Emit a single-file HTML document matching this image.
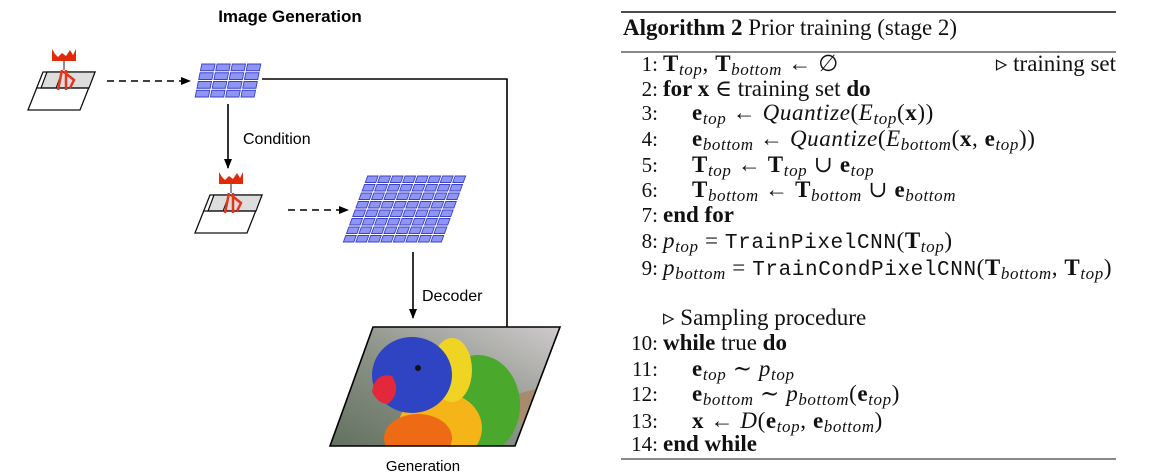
<!DOCTYPE html>
<html><head><meta charset="utf-8"><style>
html,body{margin:0;padding:0;background:#fff;}
svg{display:block;}
.sans{font-family:"Liberation Sans",Arial,sans-serif;}
.ser{font-family:"Liberation Serif","DejaVu Serif",serif;font-size:23px;fill:#111;}
.b{font-weight:bold;}
.i{font-style:italic;}
.m{font-family:"Liberation Mono",monospace;font-size:21px;}
.mx{letter-spacing:0.6px;}
</style></head><body>
<svg width="1151" height="475" viewBox="0 0 1151 475" xmlns="http://www.w3.org/2000/svg">
<defs>
<marker id="ah" markerWidth="10" markerHeight="8" refX="9" refY="4" orient="auto" markerUnits="userSpaceOnUse"><path d="M0,0 L10,4 L0,8 z" fill="#000"/></marker>
<clipPath id="pclip"><polygon points="373,327 560,327 515,446 330,446"/></clipPath>
<linearGradient id="bg" x1="0" y1="1" x2="1" y2="0"><stop offset="0" stop-color="#5f6e5c"/><stop offset="0.5" stop-color="#8e958a"/><stop offset="1" stop-color="#d6cfd4"/></linearGradient>
</defs>

<text class="sans b" x="290" y="22" font-size="17" font-weight="bold" text-anchor="middle">Image Generation</text>

<g>
 <polygon points="28,110 43,72 95,72 80,110" fill="#fff" stroke="#111" stroke-width="1.3"/>
 <polygon points="47,72 95,72 89,88 41,88" fill="#ddd" stroke="#111" stroke-width="1.2"/>
 <line x1="36" y1="88" x2="89" y2="88" stroke="#111" stroke-width="1.2"/>
 <line x1="62" y1="72" x2="56" y2="88" stroke="#111" stroke-width="1"/>
 <path d="M52,49 L52,61 L76,61 L76,49 L73,55 L70,50 L66,56 L62,53 L58,57 L55,54 Z" fill="#e02a0a"/>
 <line x1="64" y1="61" x2="64" y2="70" stroke="#222" stroke-width="1"/>
 <path d="M62,70 L58,90 M66,70 L66,90 M64,72 L74,80 L70,88" stroke="#e6361a" stroke-width="2.5" fill="none"/>
</g>
<line x1="107" y1="81" x2="190" y2="81" stroke="#000" stroke-width="1.6" stroke-dasharray="7,5" marker-end="url(#ah)"/>
<g id="grid1"></g>
<polyline points="262,79 507,79 507,327" fill="none" stroke="#000" stroke-width="1.6"/>
<line x1="228" y1="104" x2="228" y2="168" stroke="#000" stroke-width="1.6" marker-end="url(#ah)"/>
<text class="sans" x="243" y="144" font-size="16">Condition</text>

<g transform="translate(167,123)">
 <polygon points="28,110 43,72 95,72 80,110" fill="#fff" stroke="#111" stroke-width="1.3"/>
 <polygon points="47,72 95,72 89,88 41,88" fill="#ddd" stroke="#111" stroke-width="1.2"/>
 <line x1="36" y1="88" x2="89" y2="88" stroke="#111" stroke-width="1.2"/>
 <line x1="62" y1="72" x2="56" y2="88" stroke="#111" stroke-width="1"/>
 <path d="M52,49 L52,61 L76,61 L76,49 L73,55 L70,50 L66,56 L62,53 L58,57 L55,54 Z" fill="#e02a0a"/>
 <line x1="64" y1="61" x2="64" y2="70" stroke="#222" stroke-width="1"/>
 <path d="M62,70 L58,90 M66,70 L66,90 M64,72 L74,80 L70,88" stroke="#e6361a" stroke-width="2.5" fill="none"/>
</g>
<line x1="288" y1="210" x2="348" y2="210" stroke="#000" stroke-width="1.6" stroke-dasharray="7,5" marker-end="url(#ah)"/>
<g id="grid2"></g>
<line x1="413" y1="252" x2="413" y2="318" stroke="#000" stroke-width="1.6" marker-end="url(#ah)"/>
<text class="sans" x="422" y="301" font-size="16">Decoder</text>

<g clip-path="url(#pclip)">
 <rect x="320" y="320" width="250" height="130" fill="url(#bg)"/>
 <ellipse cx="530" cy="405" rx="50" ry="14" fill="#a88a6c" transform="rotate(-15 530 405)"/>
 <ellipse cx="478" cy="405" rx="42" ry="50" fill="#4aa82c"/>
 <ellipse cx="440" cy="428" rx="42" ry="36" fill="#f5b418"/>
 <ellipse cx="418" cy="438" rx="34" ry="24" fill="#ef6a14"/>
 <ellipse cx="452" cy="370" rx="20" ry="32" fill="#f0d424"/>
 <ellipse cx="412" cy="375" rx="40" ry="38" fill="#2f44c2"/>
 <path d="M372,392 Q375,372 392,376 Q402,392 388,404 Q378,404 372,392 Z" fill="#e4283c"/>
 <circle cx="418" cy="368" r="3" fill="#111"/>
</g>
<polygon points="373,327 560,327 515,446 330,446" fill="none" stroke="#000" stroke-width="1.6"/>
<text class="sans" x="423" y="471" font-size="15" text-anchor="middle">Generation</text>

<g class="ser">
<line x1="621" y1="12" x2="1116" y2="12" stroke="#111" stroke-width="1.5"/>
<text x="623" y="35"><tspan font-weight="bold">Algorithm 2</tspan> Prior training (stage 2)</text>
<line x1="621" y1="52" x2="1116" y2="52" stroke="#111" stroke-width="0.9"/>

<g text-anchor="end" font-size="21">
<text x="658" y="71">1:</text><text x="658" y="96">2:</text><text x="658" y="120">3:</text><text x="658" y="146">4:</text><text x="658" y="172">5:</text><text x="658" y="197">6:</text><text x="658" y="222">7:</text><text x="658" y="248">8:</text><text x="658" y="275">9:</text><text x="658" y="350">10:</text><text x="658" y="376">11:</text><text x="658" y="401">12:</text><text x="658" y="428">13:</text><text x="658" y="451">14:</text>
</g>
<text class="mx" x="663" y="71"><tspan font-weight="bold">T</tspan><tspan class="i" font-size="17" dy="4">top</tspan><tspan dy="-4">, </tspan><tspan font-weight="bold">T</tspan><tspan class="i" font-size="17" dy="4">bottom</tspan><tspan dy="-4"> ← ∅</tspan></text>
<text x="1116" y="71" text-anchor="end">▹ training set</text>
<text x="663" y="96"><tspan font-weight="bold">for x</tspan> ∈ training set <tspan font-weight="bold">do</tspan></text>
<text class="mx" x="692" y="120"><tspan font-weight="bold">e</tspan><tspan class="i" font-size="17" dy="4">top</tspan><tspan dy="-4"> ← </tspan><tspan class="i">Quantize</tspan>(<tspan class="i">E</tspan><tspan class="i" font-size="17" dy="4">top</tspan><tspan dy="-4">(</tspan><tspan font-weight="bold">x</tspan>))</text>
<text class="mx" x="692" y="146"><tspan font-weight="bold">e</tspan><tspan class="i" font-size="17" dy="4">bottom</tspan><tspan dy="-4"> ← </tspan><tspan class="i">Quantize</tspan>(<tspan class="i">E</tspan><tspan class="i" font-size="17" dy="4">bottom</tspan><tspan dy="-4">(</tspan><tspan font-weight="bold">x</tspan>, <tspan font-weight="bold">e</tspan><tspan class="i" font-size="17" dy="4">top</tspan><tspan dy="-4">))</tspan></text>
<text class="mx" x="692" y="172"><tspan font-weight="bold">T</tspan><tspan class="i" font-size="17" dy="4">top</tspan><tspan dy="-4"> ← </tspan><tspan font-weight="bold">T</tspan><tspan class="i" font-size="17" dy="4">top</tspan><tspan dy="-4"> ∪ </tspan><tspan font-weight="bold">e</tspan><tspan class="i" font-size="17" dy="4">top</tspan></text>
<text class="mx" x="692" y="197"><tspan font-weight="bold">T</tspan><tspan class="i" font-size="17" dy="4">bottom</tspan><tspan dy="-4"> ← </tspan><tspan font-weight="bold">T</tspan><tspan class="i" font-size="17" dy="4">bottom</tspan><tspan dy="-4"> ∪ </tspan><tspan font-weight="bold">e</tspan><tspan class="i" font-size="17" dy="4">bottom</tspan></text>
<text x="663" y="222" font-weight="bold">end for</text>
<text class="mx" x="663" y="248"><tspan class="i">p</tspan><tspan class="i" font-size="17" dy="4">top</tspan><tspan dy="-4"> = </tspan><tspan class="m">TrainPixelCNN</tspan>(<tspan font-weight="bold">T</tspan><tspan class="i" font-size="17" dy="4">top</tspan><tspan dy="-4">)</tspan></text>
<text class="mx" x="663" y="275"><tspan class="i">p</tspan><tspan class="i" font-size="17" dy="4">bottom</tspan><tspan dy="-4"> = </tspan><tspan class="m">TrainCondPixelCNN</tspan>(<tspan font-weight="bold">T</tspan><tspan class="i" font-size="17" dy="4">bottom</tspan><tspan dy="-4">, </tspan><tspan font-weight="bold">T</tspan><tspan class="i" font-size="17" dy="4">top</tspan><tspan dy="-4">)</tspan></text>
<text x="663" y="325">▹ Sampling procedure</text>
<text x="663" y="350"><tspan font-weight="bold">while</tspan> true <tspan font-weight="bold">do</tspan></text>
<text class="mx" x="692" y="376"><tspan font-weight="bold">e</tspan><tspan class="i" font-size="17" dy="4">top</tspan><tspan dy="-4"> ∼ </tspan><tspan class="i">p</tspan><tspan class="i" font-size="17" dy="4">top</tspan></text>
<text class="mx" x="692" y="401"><tspan font-weight="bold">e</tspan><tspan class="i" font-size="17" dy="4">bottom</tspan><tspan dy="-4"> ∼ </tspan><tspan class="i">p</tspan><tspan class="i" font-size="17" dy="4">bottom</tspan><tspan dy="-4">(</tspan><tspan font-weight="bold">e</tspan><tspan class="i" font-size="17" dy="4">top</tspan><tspan dy="-4">)</tspan></text>
<text class="mx" x="692" y="428"><tspan font-weight="bold">x</tspan> ← <tspan class="i">D</tspan>(<tspan font-weight="bold">e</tspan><tspan class="i" font-size="17" dy="4">top</tspan><tspan dy="-4">, </tspan><tspan font-weight="bold">e</tspan><tspan class="i" font-size="17" dy="4">bottom</tspan><tspan dy="-4">)</tspan></text>
<text x="663" y="451" font-weight="bold">end while</text>
<line x1="621" y1="459" x2="1116" y2="459" stroke="#111" stroke-width="0.9"/>
</g>
</svg>
<script>
const NS="http://www.w3.org/2000/svg";
function grid(id,x0,y0,w,h,skew,cols,rows){
  const g=document.getElementById(id);
  const cw=w/cols, ch=h/rows;
  for(let r=0;r<rows;r++)for(let c=0;c<cols;c++){
    const yt=y0+r*ch, yb=yt+ch;
    const sx=t=>skew*(1-(t-y0)/h);
    const x=x0+c*cw;
    const p=document.createElementNS(NS,'polygon');
    const pad=1;
    const pts=[[x+sx(yt+pad)+pad,yt+pad],[x+cw+sx(yt+pad)-pad,yt+pad],[x+cw+sx(yb-pad)-pad,yb-pad],[x+sx(yb-pad)+pad,yb-pad]];
    p.setAttribute('points',pts.map(q=>q.join(',')).join(' '));
    p.setAttribute('fill','#8f95f2');p.setAttribute('stroke','#3a40c8');p.setAttribute('stroke-width','0.9');
    
    
    g.appendChild(p);
  }
}
grid('grid1',194,63,61,35,7,4,4);
grid('grid2',342,175,100,68,25,8,8);
</script>
</body></html>
